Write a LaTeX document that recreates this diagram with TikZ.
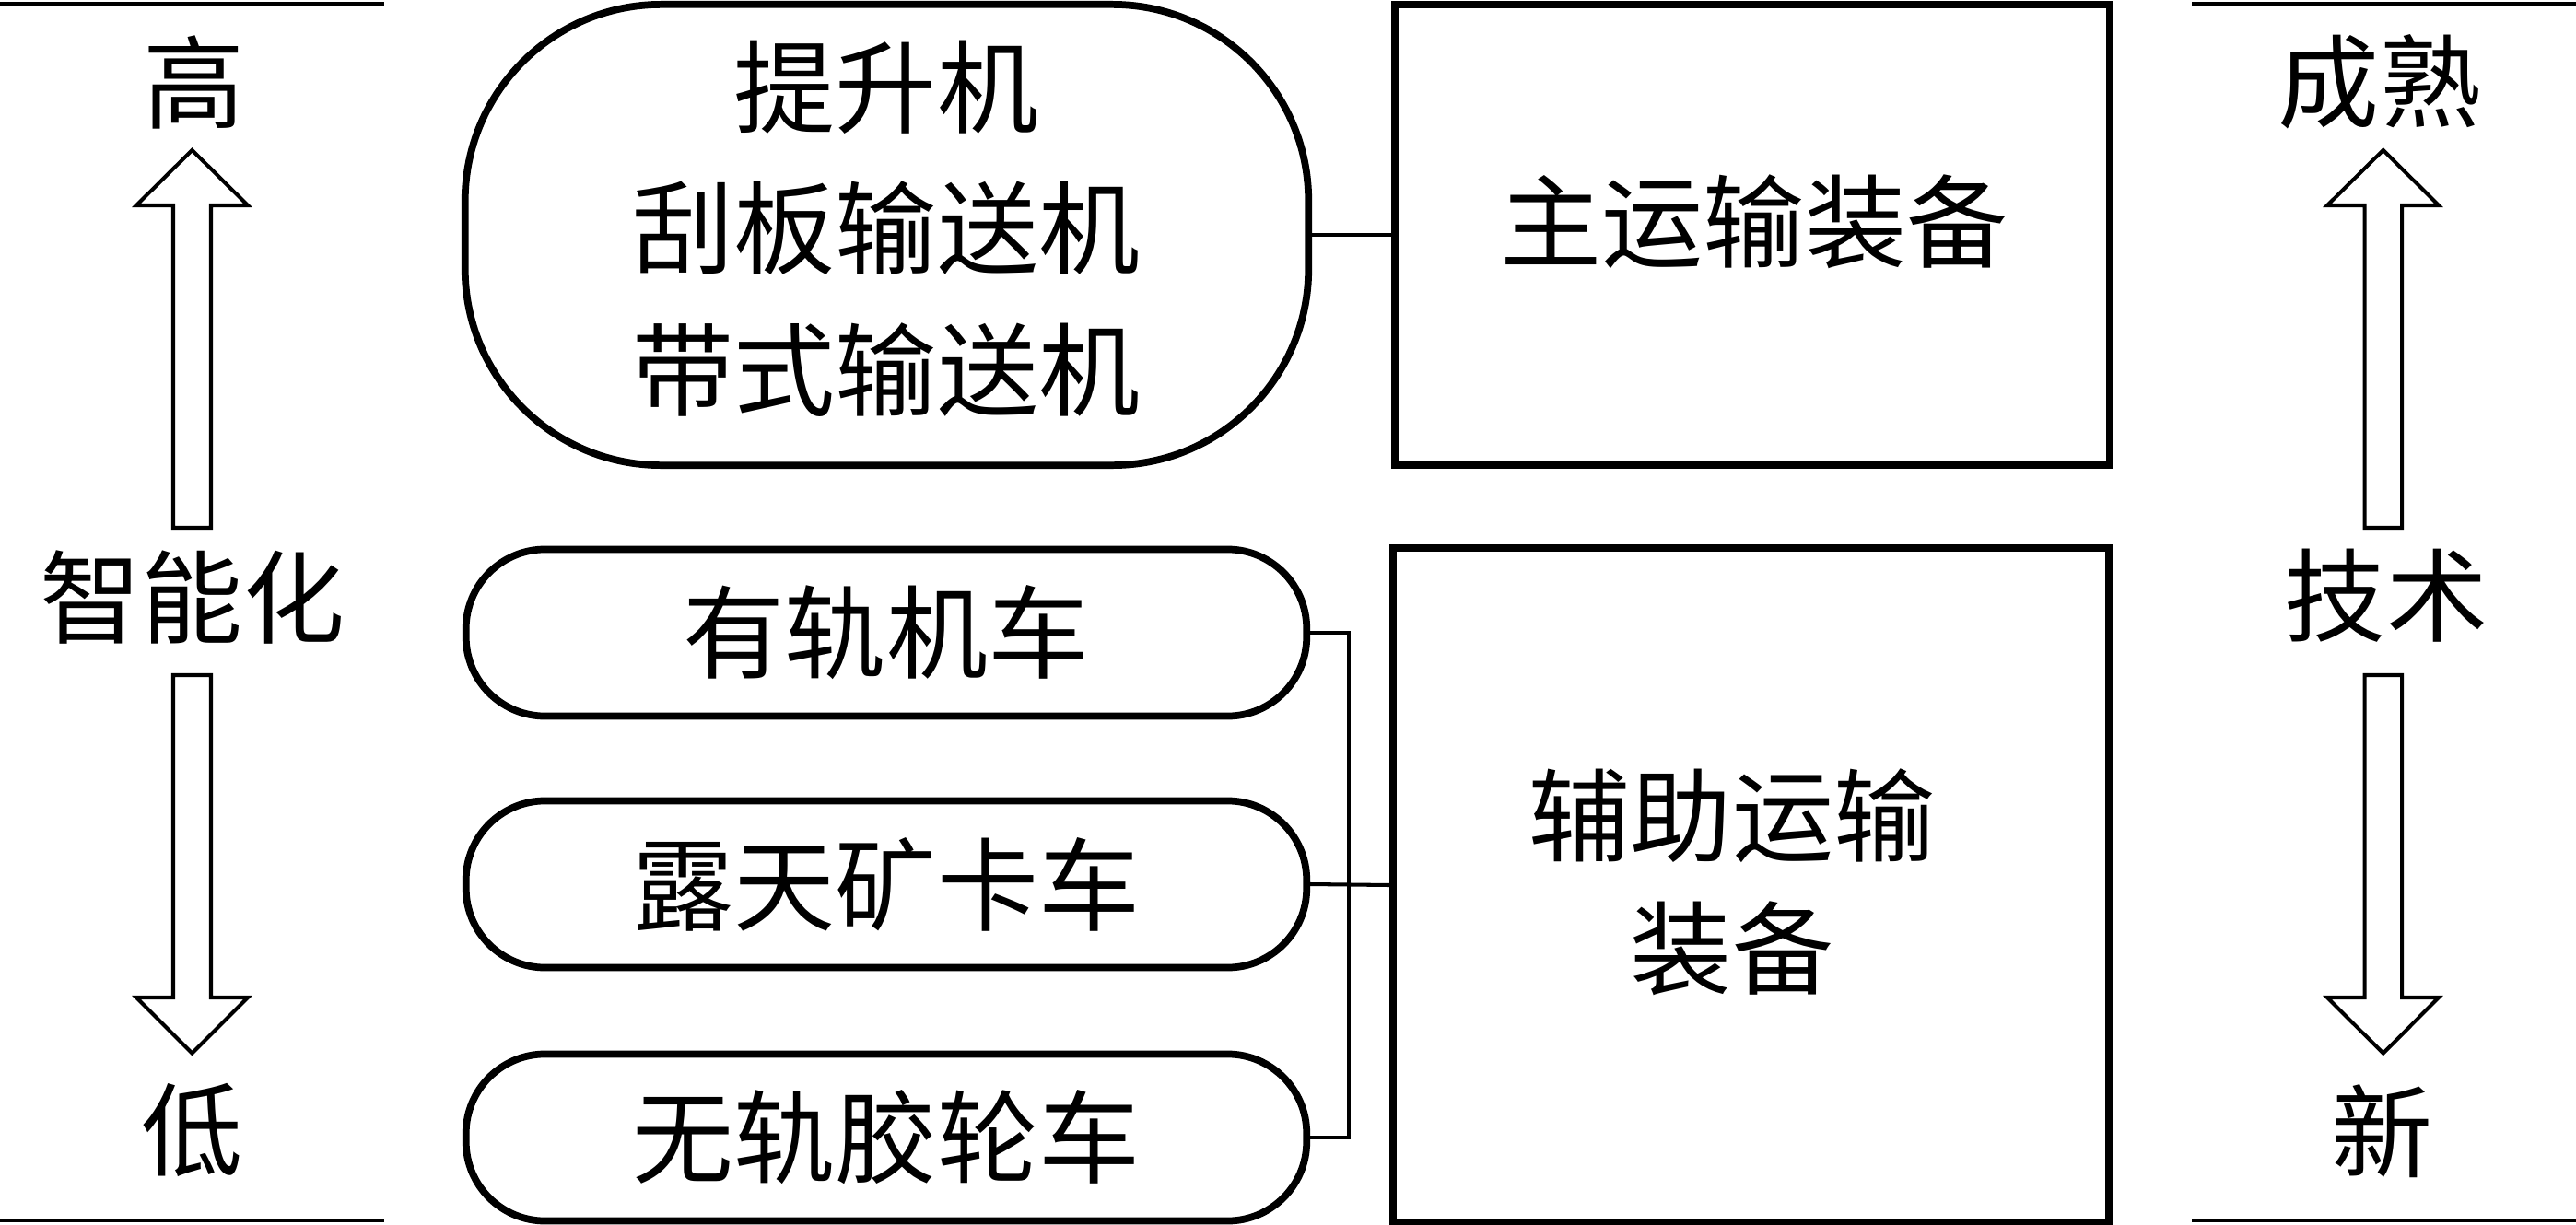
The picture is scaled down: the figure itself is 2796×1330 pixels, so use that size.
\documentclass[tikz,border=0pt]{standalone}
\usepackage{fontspec}
\setmainfont{Noto Sans CJK SC}
\begin{document}
\begin{tikzpicture}[x=0.01cm,y=-0.01cm,
  txt/.style={inner sep=0pt,font=\fontsize{31.3}{43.7}\selectfont,align=center},
  boxln/.style={draw,line width=2.2pt},
  bigpill/.style={boxln,rounded corners=2.13cm,minimum width=9.15cm,minimum height=5cm},
  pill/.style={boxln,txt,rounded corners=0.86cm,minimum width=9.12cm,minimum height=1.81cm},
  rectbox/.style={boxln,inner sep=0pt},
  rule/.style={line width=1.4pt},
  conn/.style={line width=1.15pt},
  fatarrow/.style={draw,line width=1.15pt,line join=miter}
]
\useasboundingbox (0,0) rectangle (2796,1330);

% horizontal rules
\draw[rule] (0,4) -- (417,4);
\draw[rule] (0,1325) -- (417,1325);
\draw[rule] (2379,4) -- (2796,4);
\draw[rule] (2379,1325) -- (2796,1325);

% left scale
\node[txt] (hi) at (211,89) {高};
\node[txt] (intel) at (209,648) {智能化};
\node[txt] (lo) at (209,1227) {低};
\draw[fatarrow] (208.5,163) -- (269,223) -- (229,223) -- (229,573) -- (188,573) -- (188,223) -- (148,223) -- cycle;
\draw[fatarrow] (208.5,1143.5) -- (269,1083) -- (229,1083) -- (229,733) -- (188,733) -- (188,1083) -- (148,1083) -- cycle;

% right scale
\node[txt] (mature) at (2583,89) {成熟};
\node[txt] (tech) at (2590,647) {技术};
\node[txt] (new) at (2586,1228) {新};
\draw[fatarrow] (2586.7,163) -- (2647,223) -- (2607,223) -- (2607,573) -- (2566.5,573) -- (2566.5,223) -- (2526,223) -- cycle;
\draw[fatarrow] (2586.7,1143.5) -- (2647,1083) -- (2607,1083) -- (2607,733) -- (2566.5,733) -- (2566.5,1083) -- (2526,1083) -- cycle;

% main transport
\node[bigpill] (conv) at (962.5,255) {};
\node[txt] (convtext) at (962,248) {提升机\\刮板输送机\\带式输送机};
\node[rectbox,minimum width=7.76cm,minimum height=5cm] (main) at (1902,255) {};
\node[txt] (maintext) at (1904,241) {主运输装备};
\draw[conn] (conv.east) -- (main.west);

% auxiliary transport
\node[pill] (p1) at (962,687) {有轨机车};
\node[pill] (p2) at (962,960) {露天矿卡车};
\node[pill] (p3) at (962,1235) {无轨胶轮车};
\node[rectbox,minimum width=7.77cm,minimum height=7.32cm] (aux) at (1900.5,961) {};
\node[txt,font=\fontsize{31.3}{41}\selectfont] (auxtext) at (1880,958) {辅助运输\\装备};
\coordinate (bj) at (1464,687);
\draw[conn] (p1.east) -- (bj) |- (p3.east);
\draw[conn] (p2.east) -- (aux.west);
\end{tikzpicture}
\end{document}
